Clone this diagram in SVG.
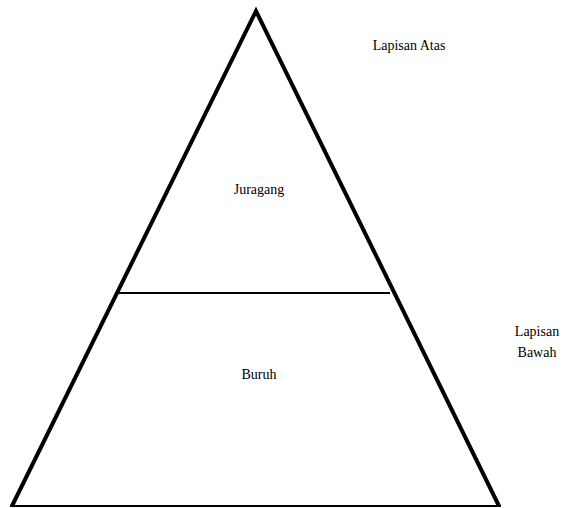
<svg xmlns="http://www.w3.org/2000/svg" width="571" height="508" viewBox="0 0 571 508">
<style>
text{font-family:"Liberation Serif","Times New Roman",serif;font-size:14px;fill:#000;text-anchor:middle}
.tri{fill:none;stroke:#000;stroke-width:4;stroke-linejoin:miter}
.ln{stroke:#000;stroke-width:2}
</style>
<rect width="571" height="508" fill="#fff"/>
<g id="pyramid">
<path class="tri" d="M12,506 L256,11 L499,506"/>
<line class="ln" x1="10" y1="506" x2="501" y2="506"/>
</g>
<g id="connectors">
<line class="ln" x1="119" y1="293" x2="390" y2="293"/>
</g>
<g id="juragang"><text x="259" y="194">Juragang</text></g>
<g id="buruh"><text x="259" y="379">Buruh</text></g>
<g id="lapisan-atas"><text x="409" y="50">Lapisan Atas</text></g>
<g id="lapisan-bawah"><text x="537" y="336">Lapisan</text><text x="537" y="357">Bawah</text></g>
</svg>
